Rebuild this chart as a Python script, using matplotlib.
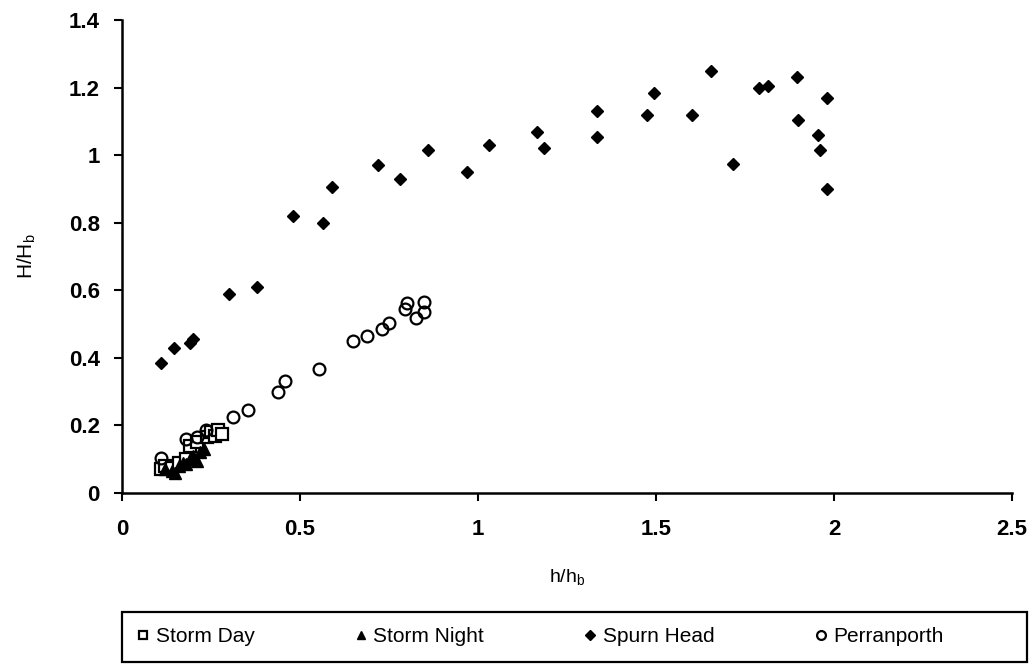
import matplotlib
matplotlib.use("Agg")
import matplotlib.pyplot as plt
from matplotlib import font_manager
from matplotlib.patches import Rectangle

names = {f.name for f in font_manager.fontManager.ttflist}
narrow = 'Liberation Sans Narrow' if 'Liberation Sans Narrow' in names else 'Liberation Sans'
plt.rcParams['font.family'] = ['Liberation Sans', 'DejaVu Sans']

# Data
storm_day_x = [0.11, 0.12, 0.14, 0.16, 0.18, 0.19, 0.21, 0.24, 0.25, 0.26, 0.27, 0.28]
storm_day_y = [0.07, 0.08, 0.075, 0.09, 0.10, 0.14, 0.15, 0.165, 0.18, 0.17, 0.185, 0.175]

storm_night_x = [0.12, 0.14, 0.15, 0.16, 0.17, 0.18, 0.19, 0.20, 0.21, 0.22, 0.23]
storm_night_y = [0.07, 0.065, 0.06, 0.08, 0.09, 0.085, 0.10, 0.11, 0.095, 0.12, 0.13]

spurn_x = [0.11, 0.145, 0.19, 0.20, 0.30, 0.38, 0.48, 0.565, 0.59, 0.72, 0.78, 0.86,
           0.97, 1.03, 1.165, 1.185, 1.335, 1.335, 1.475, 1.495, 1.60, 1.655, 1.715,
           1.79, 1.815, 1.895, 1.90, 1.955, 1.96, 1.98, 1.98]
spurn_y = [0.385, 0.43, 0.445, 0.455, 0.59, 0.61, 0.82, 0.80, 0.905, 0.97, 0.93, 1.015,
           0.95, 1.03, 1.07, 1.02, 1.13, 1.055, 1.12, 1.185, 1.12, 1.25, 0.975,
           1.20, 1.205, 1.23, 1.105, 1.06, 1.015, 1.17, 0.90]

perran_x = [0.11, 0.18, 0.21, 0.235, 0.312, 0.354, 0.438, 0.458, 0.553, 0.649, 0.688,
            0.73, 0.75, 0.795, 0.80, 0.826, 0.848, 0.848]
perran_y = [0.105, 0.16, 0.165, 0.185, 0.225, 0.246, 0.299, 0.331, 0.367, 0.45, 0.465,
            0.485, 0.503, 0.544, 0.562, 0.518, 0.536, 0.565]

x_ticks = [0, 0.5, 1, 1.5, 2, 2.5]
x_tick_labels = ['0', '0.5', '1', '1.5', '2', '2.5']
y_ticks = [0, 0.2, 0.4, 0.6, 0.8, 1.0, 1.2, 1.4]
y_tick_labels = ['0', '0.2', '0.4', '0.6', '0.8', '1', '1.2', '1.4']

fig = plt.figure(figsize=(10.36, 6.68), dpi=100)
ax = fig.add_axes([0.1178, 0.262, 0.859, 0.708])

ax.plot(storm_day_x, storm_day_y, linestyle='none', marker='s', ms=8, mfc='white',
        mec='black', mew=1.6, label='Storm Day', zorder=3)
ax.plot(storm_night_x, storm_night_y, linestyle='none', marker='^', ms=8, mfc='black',
        mec='black', label='Storm Night', zorder=4)
ax.plot(spurn_x, spurn_y, linestyle='none', marker='D', ms=6.5, mfc='black',
        mec='black', label='Spurn Head', zorder=3)
ax.plot(perran_x, perran_y, linestyle='none', marker='o', ms=8.5, mfc='none',
        mec='black', mew=1.6, label='Perranporth', zorder=3)

ax.set_xlim(0, 2.5)
ax.set_ylim(0, 1.4)
ax.set_xticks(x_ticks)
ax.set_xticklabels(x_tick_labels)
ax.set_yticks(y_ticks)
ax.set_yticklabels(y_tick_labels)
for s in ['top', 'right']:
    ax.spines[s].set_visible(False)
for s in ['left', 'bottom']:
    ax.spines[s].set_linewidth(1.8)
ax.tick_params(axis='both', direction='out', length=6, width=1.5, labelsize=16, pad=10)
ax.tick_params(axis='x', pad=13)
for lab in ax.get_xticklabels() + ax.get_yticklabels():
    lab.set_fontweight('bold')

ax.set_xlabel('h/h$_\\mathregular{b}$', fontsize=14, family=narrow, labelpad=20)
ax.set_ylabel('H/H$_\\mathregular{b}$', fontsize=15, family=narrow, labelpad=22)

# legend box
fig.add_artist(Rectangle((0.118, 0.009), 0.873, 0.075, transform=fig.transFigure,
                         fill=False, edgecolor='black', linewidth=1.6))
leg = fig.legend(loc='center left', bbox_to_anchor=(0.124, 0.0465),
                 ncol=4, frameon=False, markerscale=0.75, handlelength=0.6,
                 handletextpad=0.3, columnspacing=4.8,
                 prop={'family': narrow, 'size': 15}, borderaxespad=0)

fig.savefig('out.png', dpi=100)
